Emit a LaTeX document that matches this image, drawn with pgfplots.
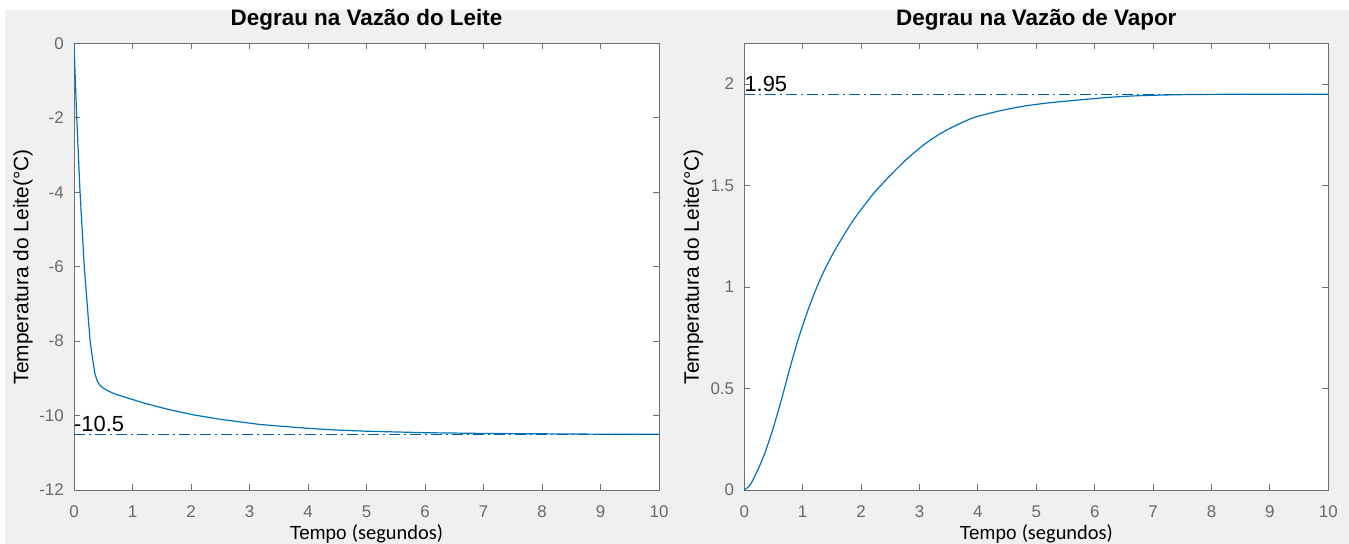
\documentclass[border=0pt]{standalone}
\usepackage{pgfplots}
\pgfplotsset{compat=1.18}
\usepackage{pgfplotstable}
\usepackage{fontspec}
\setmainfont{Liberation Sans}
\newfontfamily\calibri{Carlito}
\definecolor{figbg}{RGB}{240,240,240}
\definecolor{mblue}{RGB}{0,114,189}
\definecolor{axgray}{RGB}{110,110,110}
\definecolor{tkgray}{RGB}{105,105,105}

% resposta ao degrau na vazao do leite
\pgfplotstableread{
t v
0 0
0.046 -1.97
0.103 -3.99
0.176 -6.01
0.274 -7.98
0.32 -8.50
0.359 -8.88
0.40 -9.08
0.44 -9.18
0.50 -9.26
0.60 -9.35
0.70 -9.42
0.90 -9.52
1.21 -9.67
1.60 -9.83
2.04 -9.98
2.50 -10.10
3.18 -10.24
3.98 -10.34
4.50 -10.39
5.00 -10.42
6.00 -10.46
7.00 -10.48
8.00 -10.49
9.00 -10.50
10.0 -10.50
}\leite

% resposta ao degrau na vazao de vapor
\pgfplotstableread{
t v
0 0
0.10 0.025
0.21 0.086
0.35 0.18
0.50 0.31
0.65 0.46
0.78 0.60
0.92 0.74
1.07 0.87
1.20 0.97
1.35 1.07
1.50 1.155
1.64 1.225
1.80 1.30
1.93 1.355
2.21 1.46
2.50 1.55
2.78 1.63
3.07 1.70
3.35 1.755
3.65 1.80
3.93 1.835
4.37 1.868
4.80 1.892
5.20 1.907
5.70 1.921
6.26 1.935
6.78 1.943
7.50 1.948
8.50 1.95
10.0 1.95
}\vapor

\pgfplotsset{
  matlab/.style={
    scale only axis, height=446.5bp,
    xmin=0, xmax=10, xtick={0,...,10},
    axis background/.style={fill=white},
    axis line style={draw=axgray, line width=0.9bp},
    tick style={draw=axgray, line width=0.9bp},
    tick align=inside, major tick length=6bp,
    tick pos=both,
    /pgf/number format/assume math mode=true,
    ticklabel style={font=\fontsize{17}{19}\selectfont, text=tkgray},
    xticklabel style={anchor=base, yshift=-27bp},
    yticklabel style={anchor=east, inner sep=0pt, xshift=-10bp},
    title style={font=\bfseries\fontsize{22.5}{24}\selectfont,
      at={(axis description cs:0.5,1)}, anchor=base, yshift=12bp},
    ylabel style={font=\fontsize{21}{23}\selectfont,
      at={(axis description cs:-0.0872,0.5)}, anchor=center},
    xlabel style={font=\fontsize{19}{21}\selectfont,
      at={(axis description cs:0.5,0)}, anchor=base, yshift=-49bp},
    xlabel={Tempo {\calibri\fontsize{20.5}{22}\selectfont(segundos)}},
    ylabel={Temperatura do Leite(°C)},
  },
  curva/.style={mblue, line width=1.2bp},
  regime/.style={mblue!85!black, line width=1bp,
    dash pattern=on 11bp off 4bp on 2bp off 4bp},
}
\tikzset{
  rotulo/.style={anchor=base west, inner sep=0pt,
    font=\fontsize{22}{24}\selectfont, yshift=3bp},
}

\begin{document}
\begin{tikzpicture}
\useasboundingbox (0bp,0bp) rectangle (1349bp,544bp);
\fill[white] (0bp,0bp) rectangle (1349bp,544bp);
\fill[figbg] (5bp,0bp) rectangle (1349bp,534bp);

\begin{axis}[matlab, width=585bp,
  at={(74bp,54bp)}, anchor=south west,
  ymin=-12, ymax=0, ytick={-12,-10,...,0},
  title={Degrau na Vazão do Leite}]
\addplot[curva] table[x=t, y=v] {\leite};
\addplot[regime] coordinates {(0,-10.5) (10,-10.5)};
\node[rotulo] at (axis cs:0,-10.5) {-10.5};
\end{axis}

\begin{axis}[matlab, width=584bp,
  at={(744.3bp,54bp)}, anchor=south west,
  ymin=0, ymax=2.2, ytick={0,0.5,1,1.5,2},
  title={Degrau na Vazão de Vapor}]
\addplot[curva, smooth, tension=0.4] table[x=t, y=v] {\vapor};
\addplot[regime] coordinates {(0,1.95) (10,1.95)};
\node[rotulo] at (axis cs:0,1.95) {1.95};
\end{axis}
\end{tikzpicture}
\end{document}
